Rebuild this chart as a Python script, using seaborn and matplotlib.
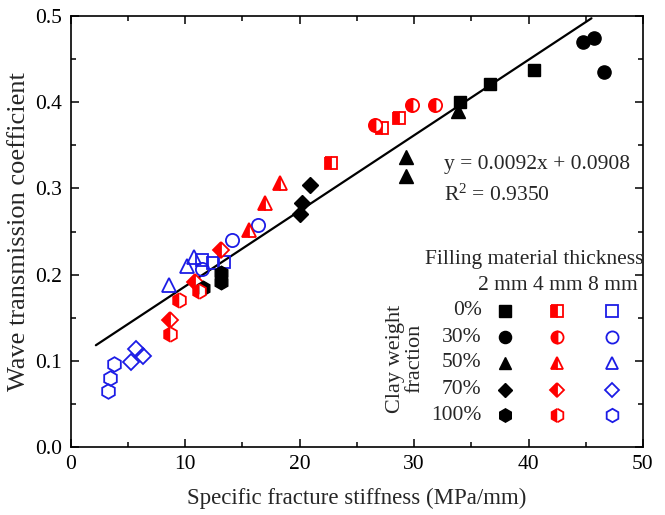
import numpy as np
import pandas as pd
import matplotlib
matplotlib.use("Agg")
import matplotlib.pyplot as plt
from matplotlib.ticker import MultipleLocator, FormatStrFormatter
import seaborn as sns

# ---------------- data ----------------
clay_levels = ["0%", "30%", "50%", "70%", "100%"]
thick_levels = ["2 mm", "4 mm", "8 mm"]

# 0 % clay (squares)
x_0_2mm = [34.0, 36.6, 40.5]
y_0_2mm = [0.400, 0.421, 0.437]
x_0_4mm = [22.7, 27.2, 28.7]
y_0_4mm = [0.329, 0.370, 0.382]
x_0_8mm = [11.5, 12.4, 13.4]
y_0_8mm = [0.217, 0.214, 0.215]

# 30 % clay (circles)
x_30_2mm = [44.8, 45.7, 46.6]
y_30_2mm = [0.470, 0.475, 0.435]
x_30_4mm = [26.6, 29.8, 31.8]
y_30_4mm = [0.373, 0.397, 0.397]
x_30_8mm = [11.5, 14.1, 16.4]
y_30_8mm = [0.206, 0.240, 0.258]

# 50 % clay (triangles)
x_50_2mm = [33.8, 29.3, 29.3]
y_50_2mm = [0.390, 0.337, 0.314]
x_50_4mm = [15.6, 17.0, 18.3]
y_50_4mm = [0.252, 0.283, 0.306]
x_50_8mm = [8.6, 10.2, 10.8]
y_50_8mm = [0.188, 0.210, 0.221]

# 70 % clay (diamonds)
x_70_2mm = [20.9, 20.2, 20.0]
y_70_2mm = [0.304, 0.283, 0.270]
x_70_4mm = [13.1, 10.9, 8.7]
y_70_4mm = [0.228, 0.191, 0.147]
x_70_8mm = [5.7, 6.3, 5.3]
y_70_8mm = [0.114, 0.106, 0.099]

# 100 % clay (hexagons)
x_100_2mm = [11.6, 13.1, 13.1]
y_100_2mm = [0.185, 0.202, 0.192]
x_100_4mm = [11.2, 9.45, 8.66]
y_100_4mm = [0.181, 0.170, 0.131]
x_100_8mm = [3.8, 3.4, 3.3]
y_100_8mm = [0.096, 0.080, 0.065]

# fitted line as drawn in the figure
line_x = np.array([2.2, 45.5])
line_slope = 0.00876
line_intercept = 0.0988
eq_text = "y = 0.0092x + 0.0908"
r2_text = "R$^2$ = 0.9350"

groups = {
    ("0%", "2 mm"): (x_0_2mm, y_0_2mm), ("0%", "4 mm"): (x_0_4mm, y_0_4mm), ("0%", "8 mm"): (x_0_8mm, y_0_8mm),
    ("30%", "2 mm"): (x_30_2mm, y_30_2mm), ("30%", "4 mm"): (x_30_4mm, y_30_4mm), ("30%", "8 mm"): (x_30_8mm, y_30_8mm),
    ("50%", "2 mm"): (x_50_2mm, y_50_2mm), ("50%", "4 mm"): (x_50_4mm, y_50_4mm), ("50%", "8 mm"): (x_50_8mm, y_50_8mm),
    ("70%", "2 mm"): (x_70_2mm, y_70_2mm), ("70%", "4 mm"): (x_70_4mm, y_70_4mm), ("70%", "8 mm"): (x_70_8mm, y_70_8mm),
    ("100%", "2 mm"): (x_100_2mm, y_100_2mm), ("100%", "4 mm"): (x_100_4mm, y_100_4mm), ("100%", "8 mm"): (x_100_8mm, y_100_8mm),
}
rows = []
for (c, t), (xs, ys) in groups.items():
    for xv, yv in zip(xs, ys):
        rows.append({"x": xv, "y": yv, "clay": c, "thick": t})
df = pd.DataFrame(rows)

# ---------------- style ----------------
sns.set_theme(style="ticks")
plt.rcParams["font.family"] = ["Liberation Serif", "DejaVu Serif"]
plt.rcParams["mathtext.fontset"] = "custom"
plt.rcParams["mathtext.rm"] = "Liberation Serif"
plt.rcParams["mathtext.it"] = "Liberation Serif:italic"

RED = "#ff0000"
BLUE = "#1c1ce6"
markers = {"0%": ("s", 9), "30%": ("o", 9.5), "50%": ("^", 10), "70%": ("D", 8.3), "100%": ("h", 10.5)}


def style_for(thick, m, ms):
    if thick == "2 mm":
        return dict(marker=m, markersize=ms, color="black", markerfacecolor="black",
                    markeredgecolor="black", markeredgewidth=1.0)
    if thick == "4 mm":
        return dict(marker=m, markersize=ms, color=RED, markerfacecolor=RED, fillstyle="left",
                    markerfacecoloralt="white", markeredgecolor=RED, markeredgewidth=1.3)
    return dict(marker=m, markersize=ms, color=BLUE, markerfacecolor="none",
                markeredgecolor=BLUE, markeredgewidth=1.3)


fig = plt.figure(figsize=(6.65, 5.15), dpi=100)
ax = fig.add_axes([0.1063, 0.132, 0.8606, 0.8369])

# regression line
sns.lineplot(x=line_x, y=line_intercept + line_slope * line_x, color="black", lw=1.6, ax=ax, zorder=2)

for (c, t), sub in df.groupby(["clay", "thick"], sort=False):
    m, ms = markers[c]
    sns.lineplot(data=sub, x="x", y="y", estimator=None, sort=False, linestyle="none",
                 ax=ax, zorder=3, **style_for(t, m, ms))

ax.set_xlim(0, 50)
ax.set_ylim(0, 0.5)
ax.xaxis.set_major_locator(MultipleLocator(10))
ax.xaxis.set_minor_locator(MultipleLocator(5))
ax.yaxis.set_major_locator(MultipleLocator(0.1))
ax.yaxis.set_minor_locator(MultipleLocator(0.05))
ax.yaxis.set_major_formatter(FormatStrFormatter("%.1f"))
ax.tick_params(which="both", direction="in", top=True, right=True, width=1.1, colors="black",
               labelsize=15.5)
ax.tick_params(which="major", length=6, pad=6)
ax.tick_params(which="minor", length=3.5)
for sp in ax.spines.values():
    sp.set_linewidth(1.2)
    sp.set_color("black")

ax.set_xlabel("Specific fracture stiffness (MPa/mm)", fontsize=16.5, labelpad=10)
ax.set_ylabel("Wave transmission coefficient", fontsize=19, labelpad=4)

# equation
ax.text(0.6523, 0.655, eq_text, transform=ax.transAxes, fontsize=15.5, ha="left", va="center")
ax.text(0.6523, 0.585, r2_text, transform=ax.transAxes, fontsize=15.5, ha="left", va="center")

# custom legend
ax.text(0.810, 0.4355, "Filling material thickness", transform=ax.transAxes, fontsize=15.5,
        ha="center", va="center")
ax.text(0.8506, 0.3759, "2 mm 4 mm 8 mm", transform=ax.transAxes, fontsize=15.5,
        ha="center", va="center")
row_y = [0.3162, 0.2545, 0.1956, 0.1323, 0.0742]
col_x = [0.7594, 0.8503, 0.9453]
for c, ry in zip(clay_levels, row_y):
    ax.text(0.7182, ry, c, transform=ax.transAxes, fontsize=15.5, ha="right", va="center")
    m, ms = markers[c]
    for t, cx in zip(thick_levels, col_x):
        ax.plot([cx], [ry], transform=ax.transAxes, linestyle="none", clip_on=False,
                **style_for(t, m, ms * 0.92))
ax.text(0.584, 0.205, "Clay weight\nfraction", transform=ax.transAxes, fontsize=16,
        rotation=90, ha="center", va="center", multialignment="center", linespacing=1.05)

fig.savefig("out.png", dpi=100)
